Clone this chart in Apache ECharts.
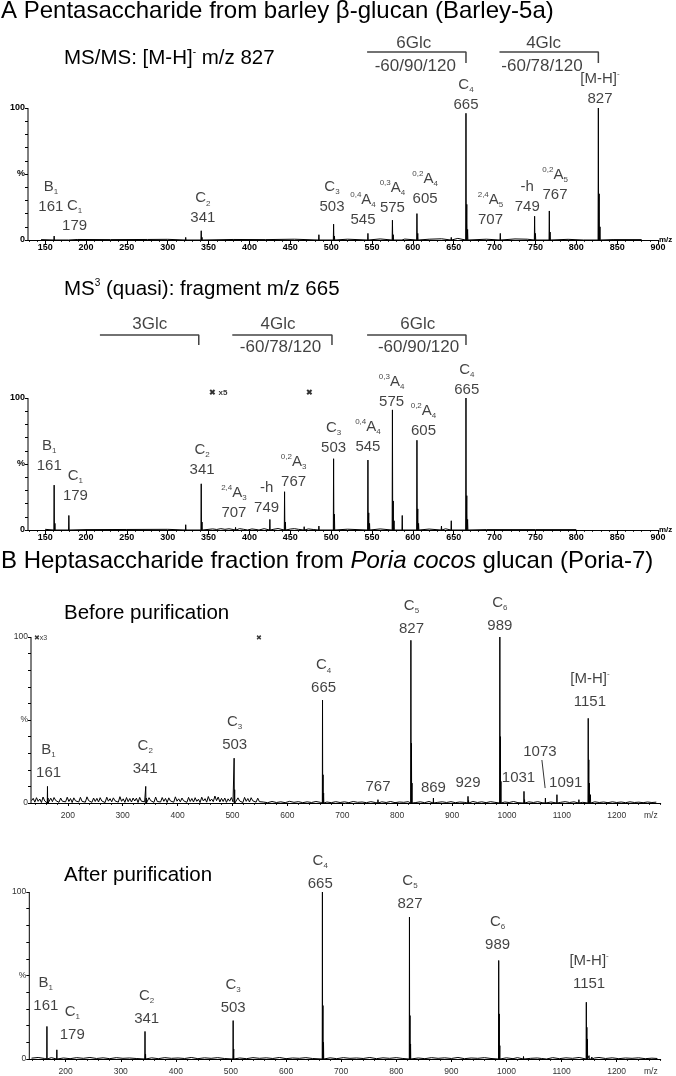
<!DOCTYPE html>
<html><head><meta charset="utf-8">
<script src="https://cdn.jsdelivr.net/npm/echarts@6/dist/echarts.min.js"></script>
<style>html,body{margin:0;padding:0;background:#fff}#c{width:676px;height:1076px}</style>
</head><body><div id="c"></div>
<script>
// ================= DATA =================
// stick peaks: [m/z, relative intensity %]
const a1Peaks = [[161,3],[179,1.5],[322,2],[341,7],[342,2],[485,4],[503,12],[504,3],[545,5],[546,1.5],[575,15],[576,4],[587,1.2],[605,20],[606,5],[647,2],[665,96],[666,27],[667,8],[707,5],[708,1.5],[749,18],[750,5],[767,22],[768,6],[809,1],[827,100],[828,35],[829,10]];
const a1Noise = [[145,0.3],[190,0.4],[230,0.3],[275,0.4],[300,0.5],[380,0.4],[420,0.3],[455,0.6],[520,0.6],[560,0.8],[590,0.7],[620,0.6],[635,0.9],[655,1.2],[690,0.6],[725,0.8],[740,0.6],[790,0.5],[845,0.3],[880,0.3]];

const a2Peaks = [[161,34],[162,5],[179,11],[322,4],[341,35],[342,6],[383,2],[398,1],[412,1.2],[425,8],[443,29],[444,6],[467,2.5],[485,3],[503,54],[504,12],[545,53],[546,13],[547,5],[575,91],[576,22],[577,7],[587,11],[605,68],[606,16],[607,5],[635,3],[647,7],[665,100],[666,26],[667,8]];
const a2Noise = [[150,0.5],[200,0.3],[250,0.4],[300,0.5],[355,0.8],[360,0.4],[365,1],[370,0.5],[375,0.9],[380,0.4],[388,1],[393,0.5],[403,0.8],[408,0.4],[418,1],[430,0.6],[435,1.1],[450,0.7],[455,1],[460,0.5],[472,0.8],[478,0.4],[520,0.6],[560,0.8],[620,0.7],[640,0.9],[690,0.3],[750,0.3],[800,0.3]];

const b1Peaks = [[163,10],[164,3],[342,10],[343,3],[503,27],[504,8],[664,62],[665,17],[666,6],[765,2],[825,98],[826,36],[827,12],[866,3],[929,4],[930,1.5],[987,100],[988,40],[989,13],[1031,7],[1032,2],[1070,3],[1091,5],[1131,2],[1148,51],[1149,26],[1150,12],[1152,5]];
const b1Noise = [[134,1.4],[137,2.8],[140,0.5],[143,3.2],[146,1.0],[149,2.4],[152,0.3],[155,3.6],[158,1.2],[161,2.1],[166,0.6],[169,2.9],[172,0.8],[175,3.3],[178,1.5],[181,2.6],[184,0.4],[187,3.0],[190,1.1],[193,2.2],[196,0.7],[199,3.5],[202,0.9],[205,2.7],[208,0.3],[211,3.1],[214,1.3],[217,2.5],[220,0.6],[223,3.4],[226,1.0],[229,2.0],[232,0.5],[235,3.7],[238,1.4],[241,2.3],[244,0.4],[247,3.0],[250,0.9],[253,2.8],[256,0.6],[259,3.2],[262,1.2],[265,2.4],[268,0.3],[271,3.5],[274,1.1],[277,2.6],[280,0.7],[283,3.1],[286,1.3],[289,2.2],[292,0.5],[295,3.8],[298,1.0],[301,2.5],[304,0.4],[307,3.3],[310,0.8],[313,2.7],[316,0.6],[319,3.0],[322,1.2],[325,2.9],[328,0.3],[331,3.4],[334,1.1],[337,2.3],[340,0.7],[345,0.5],[348,3.2],[351,1.4],[354,2.6],[357,0.4],[360,3.6],[363,0.9],[366,2.1],[369,0.6],[372,3.3],[375,1.0],[378,2.8],[381,0.3],[384,3.1],[387,1.2],[390,2.4],[393,0.5],[396,3.7],[399,1.1],[402,2.5],[405,0.7],[408,3.0],[411,1.3],[414,2.2],[417,0.4],[420,3.4],[423,0.9],[426,2.7],[429,0.6],[432,3.2],[435,1.0],[438,2.3],[441,0.3],[444,3.5],[447,1.2],[450,2.6],[453,0.5],[456,3.9],[459,1.1],[462,2.4],[465,0.8],[468,4.2],[471,1.4],[474,3.6],[477,0.6],[480,2.8],[483,0.9],[486,3.0],[489,0.4],[492,2.5],[495,1.1],[498,3.3],[501,0.7],[507,0.5],[510,3.1],[513,1.2],[516,2.4],[519,0.3],[522,3.4],[525,1.0],[528,2.7],[531,0.6],[534,3.2],[537,1.3],[540,2.2],[543,0.5],[546,2.9],[549,0.8],
[556,0.6],[564,0.2],[572,0.9],[580,0.3],[588,0.7],[596,0.2],[604,1.0],[612,0.4],[620,0.8],[628,0.2],[636,0.7],[644,0.3],[652,0.9],[660,0.4],[672,0.6],[680,0.2],[688,0.8],[696,0.3],[704,0.7],[712,0.2],[720,0.9],[728,0.4],[736,0.6],[744,0.2],[752,0.8],[760,0.3],[772,0.7],[780,0.3],[788,0.9],[796,0.2],[804,0.6],[812,0.4],[820,0.8],[834,0.3],[842,0.7],[850,0.2],[858,0.9],[874,0.4],[882,0.7],[890,0.3],[898,0.8],[906,0.2],[914,0.6],[922,0.4],[938,0.9],[946,0.3],[954,0.7],[962,0.2],[970,0.8],[978,0.4],[996,0.6],[1004,0.3],[1012,0.9],[1020,0.2],[1040,0.7],[1048,0.3],[1056,0.8],[1064,0.2],[1080,0.6],[1098,0.4],[1106,0.8],[1114,0.3],[1122,0.7],[1138,0.4],[1160,0.7],[1168,0.3],[1176,0.6],[1184,0.2],[1192,0.7],[1200,0.3],[1208,0.6],[1216,0.2],[1224,0.7],[1232,0.3],[1240,0.5],[1248,0.2],[1256,0.6],[1264,0.3],[1272,0.5]];

const b2Peaks = [[166,19.5],[184,5.5],[344,16.5],[345,3],[504,23],[505,6],[666,100],[667,32],[668,10],[824,85],[825,26],[826,9],[986,59],[987,27],[988,8],[1031,1.5],[1073,1],[1145,34],[1146,19],[1147,12],[1150,2],[1155,1.2]];
const b2Noise = [[138,0.5],[150,0.9],[162,0.3],[174,0.8],[196,0.6],[208,0.2],[220,0.8],[232,0.4],[244,0.9],[256,0.3],[268,0.7],[280,0.2],[292,0.8],[304,0.4],[316,0.6],[328,0.3],[356,0.7],[368,0.2],[380,0.8],[392,0.4],[404,0.6],[416,0.3],[428,0.9],[440,0.2],[452,0.7],[464,0.4],[476,0.8],[488,0.3],[516,0.6],[528,0.2],[540,0.8],[552,0.4],[564,0.7],[576,0.3],[588,0.9],[600,0.2],[612,0.6],[624,0.4],[636,0.8],[648,0.3],[680,0.7],[692,0.2],[704,0.8],[716,0.4],[728,0.6],[740,0.3],[752,0.9],[764,0.2],[776,0.7],[788,0.4],[800,0.8],[812,0.3],[840,0.6],[852,0.2],[864,0.8],[876,0.4],[888,0.7],[900,0.3],[912,0.9],[924,0.2],[936,0.6],[948,0.4],[960,0.8],[972,0.3],[1000,0.7],[1012,0.2],[1020,0.8],[1044,0.4],[1056,0.6],[1064,0.3],[1084,0.8],[1096,0.2],[1108,0.7],[1120,0.4],[1132,0.9],[1160,0.6],[1168,0.9],[1180,0.3],[1192,0.7],[1204,0.2],[1216,0.6],[1228,0.4],[1240,0.7],[1252,0.2],[1264,0.5],[1274,0.3]];

// peak annotations: [m/z, y %, superscript-before, ion, subscript, superscript-after, m/z text]
const a1Labels = [[157,33,'','B','1','','161'],[186,18,'','C','1','','179'],[343,24,'','C','2','','341'],[501,33,'','C','3','','503'],[539,23,'0,4','A','4','','545'],[575,32,'0,3','A','4','','575'],[615,39,'0,2','A','4','','605'],[665,110,'','C','4','','665'],[695,23,'2,4','A','5','','707'],[740,33,'','-h','','','749'],[774,41.7,'0,2','A','5','','767'],[829,114.4,'','[M-H]','','-','827']];
const a2Labels = [[155,56.4,'','B','1','','161'],[187,33.7,'','C','1','','179'],[342,53.4,'','C','2','','341'],[381,20.5,'2,4','A','3','','707'],[421,24.6,'','-h','','','749'],[454,44.3,'0,2','A','3','','767'],[503,70,'','C','3','','503'],[545,70.8,'0,4','A','4','','545'],[574,105,'0,3','A','4','','575'],[613,82.6,'0,2','A','4','','605'],[666,114,'','C','4','','665']];
const b1Labels = [[165,25.3,'','B','1','','161'],[341,27.4,'','C','2','','341'],[504,42,'','C','3','','503'],[666,76,'','C','4','','665'],[826,112,'','C','5','','827'],[987,113.6,'','C','6','','989'],[1151,68,'','[M-H]','','-','1151'],[765,9.6,'','','','','767'],[866,9,'','','','','869'],[929,12,'','','','','929'],[1021,15,'','','','','1031'],[1060,31,'','','','','1073'],[1107,12,'','','','','1091']];
const b2Labels = [[164,39,'','B','1','','161'],[212,21.5,'','C','1','','179'],[347,31,'','C','2','','341'],[504,37.7,'','C','3','','503'],[662,112,'','C','4','','665'],[825,99.7,'','C','5','','827'],[984,75,'','C','6','','989'],[1150,51.8,'','[M-H]','','-','1151']];

// cleavage brackets: [from m/z, to m/z, upper text, lower text, upper text m/z, lower text m/z]
const a1Brackets = [[544,665,'6Glc','-60/90/120',601,603],[706,827,'4Glc','-60/78/120',760,758]];
const a2Brackets = [[217,338,'3Glc','',278,0],[379,501,'4Glc','-60/78/120',435,438],[544,665,'6Glc','-60/90/120',606,607]];

// tick labels
const aXTicks = [150,200,250,300,350,400,450,500,550,600,650,700,750,800,850,900];
const bXTicks = [200,300,400,500,600,700,800,900,1000,1100,1200];
const yTickValues = [0,50,100];
const yTickText = ['0','%','100'];

// ================= LAYOUT =================
const FF = '"Liberation Sans", Arial, sans-serif';
const FN = '"Liberation Sans Narrow", "Liberation Sans", Arial, sans-serif';
const panels = [
  {peaks:a1Peaks, noise:a1Noise, labels:a1Labels, brackets:a1Brackets, left:28, top:28.8, width:630, height:211.2, xMin:129, xMax:900, yMax:160, xTicks:aXTicks, minor:10, kind:'A', L2:22, br:{top:149.2, line:142.4, drop:134.1, bottom:131.8}},
  {peaks:a2Peaks, noise:a2Noise, labels:a2Labels, brackets:a2Brackets, left:28, top:305.6, width:630, height:224.4, xMin:129, xMax:900, yMax:170, xTicks:aXTicks, minor:10, kind:'A', L2:22, br:{top:156, line:147.7, drop:140.2, bottom:138.6}},
  {peaks:b1Peaks, noise:b1Noise, labels:b1Labels, brackets:[], left:31, top:587.2, width:629.7, height:215.8, xMin:133, xMax:1280, yMax:130, xTicks:bXTicks, minor:20, kind:'B', L2:28, mzAt:1262},
  {peaks:b2Peaks, noise:b2Noise, labels:b2Labels, brackets:[], left:29.3, top:850.25, width:631.4, height:208.75, xMin:134, xMax:1280, yMax:125, xTicks:bXTicks, minor:20, kind:'B', L2:28, mzAt:1262}
];

function trace(peaks, noise){
  const pts = [];
  peaks.forEach(p => { pts.push([p[0]-0.35,0],[p[0],p[1]],[p[0]+0.35,0]); });
  noise.forEach(p => pts.push([p[0],p[1]]));
  pts.sort((a,b)=>a[0]-b[0]);
  return pts;
}
function labelText(l){
  const [, , pre, main, sub, post, num] = l;
  if(!main) return '{n|'+num+'}';
  let s = '';
  if(pre) s += '{sp|'+pre+'}';
  s += '{n|'+main+'}';
  if(sub) s += '{sb|'+sub+'}';
  if(post) s += '{sp|'+post+'}';
  return s + '\n{num|' + num + '}';
}

const grid=[], xAxis=[], yAxis=[], series=[];
panels.forEach((p,i)=>{
  grid.push({left:p.left, top:p.top, width:p.width, height:p.height, outerBoundsMode:'none', containLabel:false});
  const minorVals=[]; for(let v=Math.ceil(p.xMin/p.minor)*p.minor; v<=p.xMax; v+=p.minor) minorVals.push(v);
  const isA = p.kind==='A';
  const tickLbl = isA ? {fontFamily:FN, fontWeight:'bold', fontSize:9, color:'#000'} : {fontFamily:FF, fontSize:8.5, color:'#333'};
  const lblVals = p.mzAt ? p.xTicks.concat([p.mzAt]) : p.xTicks;
  xAxis.push({type:'value', gridIndex:i, min:p.xMin, max:p.xMax, position:'bottom',
    axisLine:{show:true, onZero:false, lineStyle:{color:'#000', width:1}},
    axisTick:{show:true, customValues:p.xTicks, length:isA?4:3, lineStyle:{color:'#000'}},
    axisLabel:Object.assign({show:true, customValues:lblVals, margin:isA?3:8, formatter:v=>(p.mzAt && Math.abs(v-p.mzAt)<0.5)?'m/z':String(v)}, tickLbl),
    splitLine:{show:false},
    name: isA ? 'm/z' : '', nameLocation:'end', nameGap:1, nameMoveOverlap:false,
    nameTextStyle:{fontFamily:FN, fontWeight:'bold', fontSize:8, color:'#000', align:'left', verticalAlign:'middle'}
  });
  xAxis.push({type:'value', gridIndex:i, min:p.xMin, max:p.xMax, position:'bottom',
    axisLine:{show:false, onZero:false}, axisLabel:{show:false}, splitLine:{show:false},
    axisTick:{show:true, customValues:minorVals, length:2, lineStyle:{color:'#000', width:0.8}}
  });
  const yl = isA ? {fontFamily:FN, fontWeight:'bold', fontSize:9, color:'#000'} : {fontFamily:FF, fontSize:8.5, color:'#333'};
  yAxis.push({type:'value', gridIndex:i, min:0, max:p.yMax,
    axisLine:{show:false}, splitLine:{show:false},
    axisTick:{show:true, customValues:[0,10,20,30,40,50,60,70,80,90,100], length:3, lineStyle:{color:'#000'}},
    axisLabel:Object.assign({show:true, customValues:yTickValues, margin:3, formatter:v=>yTickText[yTickValues.indexOf(v)]}, yl)
  });
  const xi = 2*i, yi = i;
  // spectrum trace
  series.push({type:'line', xAxisIndex:xi, yAxisIndex:yi, data:trace(p.peaks,p.noise), showSymbol:false, symbol:'none',
    lineStyle:{color:'#000', width:1}, silent:true, animation:false, z:3});
  // y axis line (0..100 only)
  series.push({type:'line', xAxisIndex:xi, yAxisIndex:yi, data:[[p.xMin,0],[p.xMin,100]], clip:false, symbol:'none',
    lineStyle:{color:'#000', width:1}, silent:true, animation:false});
  // peak annotations
  const off = p.L2/4 - 4.5;
  series.push({type:'scatter', xAxisIndex:xi, yAxisIndex:yi, symbolSize:0, silent:true, animation:false, z:5,
    data:p.labels.map(l=>({value:[l[0],l[1]], label:{formatter:labelText(l), offset:[0, l[3]? off : 0]}})),
    label:{show:true, position:'inside', color:'#111',
      rich:{
        n:{fontFamily:FF, fontSize:15, lineHeight:18, color:'#111'},
        num:{fontFamily:FF, fontSize:15, lineHeight:p.L2, color:'#111'},
        sb:{fontFamily:FF, fontSize:8, lineHeight:7, verticalAlign:'bottom', color:'#111'},
        sp:{fontFamily:FF, fontSize:8, lineHeight:7, verticalAlign:'top', color:'#111'}
      }}
  });
  // brackets
  p.brackets.forEach(b=>{
    series.push({type:'line', xAxisIndex:xi, yAxisIndex:yi, data:[[b[0],p.br.line],[b[1],p.br.line],[b[1],p.br.drop]],
      symbol:'none', lineStyle:{color:'#444', width:1.5}, silent:true, animation:false});
  });
  if(p.brackets.length){
    const bt=[];
    p.brackets.forEach(b=>{ bt.push({value:[b[4],p.br.top], label:{formatter:b[2]}}); if(b[3]) bt.push({value:[b[5],p.br.bottom], label:{formatter:b[3]}}); });
    series.push({type:'scatter', xAxisIndex:xi, yAxisIndex:yi, symbolSize:0, silent:true, animation:false, data:bt,
      label:{show:true, position:'inside', fontFamily:FF, fontSize:17, color:'#111'}});
  }
});

// magnification markers and the 1073 pointer
series.push({type:'scatter', xAxisIndex:2, yAxisIndex:1, symbolSize:0, silent:true, animation:false,
  data:[{value:[362,103.8], label:{formatter:'✖ x5'}},{value:[474,103.8], label:{formatter:'✖'}}],
  label:{show:true, position:'inside', fontFamily:FN, fontWeight:'bold', fontSize:8, color:'#000'}});
series.push({type:'scatter', xAxisIndex:4, yAxisIndex:2, symbolSize:0, silent:true, animation:false,
  data:[{value:[150,99.4], label:{formatter:'✖x3'}},{value:[548,99.4], label:{formatter:'✖'}}],
  label:{show:true, position:'inside', fontFamily:FF, fontSize:7, color:'#000'}});
series.push({type:'line', xAxisIndex:4, yAxisIndex:2, data:[[1063.6,25.9],[1069.5,9]], symbol:'none',
  lineStyle:{color:'#000', width:0.8}, silent:true, animation:false});

const graphic = [
  {type:'text', left:1, top:-1, style:{text:'A Pentasaccharide from barley β-glucan (Barley-5a)', fill:'#000', font:'24px '+FF}},
  {type:'text', left:64, top:47, style:{text:'{a|MS/MS: [M-H]}{s|-}{a| m/z 827}', rich:{a:{fontSize:20.5, fontFamily:FF, fill:'#000', lineHeight:23}, s:{fontSize:10, fontFamily:FF, fill:'#000', lineHeight:10, verticalAlign:'top'}}}},
  {type:'text', left:64, top:278, style:{text:'{a|MS}{s|3}{a| (quasi): fragment m/z 665}', rich:{a:{fontSize:20.5, fontFamily:FF, fill:'#000', lineHeight:23}, s:{fontSize:10, fontFamily:FF, fill:'#000', lineHeight:10, verticalAlign:'top'}}}},
  {type:'text', left:1, top:549, style:{text:'{a|B Heptasaccharide fraction from }{i|Poria cocos}{a| glucan (Poria-7)}', rich:{a:{fontSize:24, fontFamily:FF, fill:'#000'}, i:{fontSize:24, fontFamily:FF, fontStyle:'italic', fill:'#000'}}}},
  {type:'text', left:64, top:603, style:{text:'Before purification', fill:'#000', font:'20.5px '+FF}},
  {type:'text', left:64, top:865, style:{text:'After purification', fill:'#000', font:'20.5px '+FF}}
];

const chart = echarts.init(document.getElementById('c'), null, {renderer:'canvas', width:676, height:1076});
chart.setOption({animation:false, backgroundColor:'#fff', grid, xAxis, yAxis, series, graphic});
</script></body></html>
